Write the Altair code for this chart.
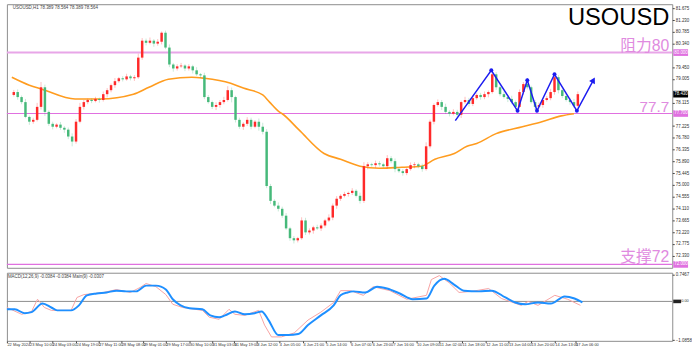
import altair as alt
import pandas as pd

# ---------------- data ----------------
close = [78.51, 78.32, 78.13, 77.57, 77.39, 77.46, 77.95, 78.69, 77.76, 77.31,
         77.20, 77.28, 77.16, 77.09, 76.83, 76.64, 77.39, 77.95, 78.13, 78.21,
         78.17, 78.25, 78.21, 78.43, 78.58, 78.77, 78.92, 79.03, 78.99, 79.10,
         79.03, 79.07, 79.81, 80.45, 80.37, 80.45, 80.34, 80.41, 80.75, 80.19,
         79.55, 79.40, 79.48, 79.51, 79.40, 79.48, 79.33, 79.18, 79.14, 78.32,
         78.13, 77.95, 78.02, 78.13, 78.21, 78.58, 78.32, 77.46, 77.20, 77.31,
         77.46, 77.20, 77.39, 77.20, 77.01, 74.96, 74.40, 74.22, 74.10, 73.84,
         73.36, 72.99, 72.91, 72.99, 73.66, 73.21, 73.28, 73.40, 73.36, 73.47,
         73.66, 73.77, 74.22, 74.48, 74.59, 74.66, 74.70, 74.78, 74.59, 74.40,
         75.71, 75.78, 75.75, 75.82, 75.78, 75.71, 76.01, 75.90, 75.60, 75.52,
         75.45, 75.60, 75.75, 75.78, 75.71, 75.60, 76.46, 77.39, 78.02, 78.13,
         77.95, 77.76, 77.69, 77.76, 77.65, 78.13, 78.21, 78.06, 78.28, 78.40,
         78.32, 78.43, 78.51, 79.18, 78.69, 78.43, 78.32, 78.25, 78.13, 77.95,
         78.51, 78.81, 78.69, 78.13, 77.95, 78.02, 78.21, 78.28, 78.51, 79.07,
         78.58, 78.36, 78.21, 78.13, 77.99, 78.43]
first_open = 78.40
hi_ext = [0.08, 0.10, 0.06, 0.12, 0.05, 0.08, 0.15, 0.20, 0.10, 0.06,
          0.08, 0.05, 0.10, 0.06, 0.08, 0.12, 0.10, 0.15, 0.08, 0.05,
          0.06, 0.08, 0.05, 0.10, 0.08, 0.06, 0.12, 0.05, 0.08, 0.10,
          0.06, 0.08, 0.15, 0.10, 0.08, 0.12, 0.06, 0.10, 0.05, 0.08,
          0.12, 0.06, 0.08, 0.10, 0.05, 0.08, 0.06, 0.12, 0.05, 0.10,
          0.08, 0.06, 0.10, 0.08, 0.12, 0.15, 0.10, 0.05, 0.08, 0.06,
          0.10, 0.08, 0.06, 0.12, 0.15, 0.10, 0.08, 0.06, 0.12, 0.08,
          0.10, 0.06, 0.08, 0.05, 0.12, 0.10, 0.08, 0.06, 0.10, 0.08,
          0.06, 0.12, 0.08, 0.10, 0.06, 0.08, 0.05, 0.10, 0.06, 0.12,
          0.15, 0.08, 0.06, 0.10, 0.08, 0.06, 0.12, 0.08, 0.10, 0.06,
          0.08, 0.05, 0.10, 0.08, 0.06, 0.10, 0.15, 0.08, 0.06, 0.10,
          0.08, 0.12, 0.06, 0.10, 0.08, 0.06, 0.12, 0.08, 0.10, 0.06,
          0.08, 0.10, 0.06, 0.15, 0.08, 0.06, 0.10, 0.08, 0.12, 0.06,
          0.10, 0.08, 0.12, 0.06, 0.08, 0.10, 0.06, 0.08, 0.12, 0.10,
          0.08, 0.06, 0.10, 0.08, 0.12, 0.10]
lo_ext = [0.06, 0.10, 0.08, 0.05, 0.12, 0.08, 0.06, 0.10, 0.15, 0.08,
          0.10, 0.06, 0.08, 0.12, 0.10, 0.18, 0.08, 0.06, 0.10, 0.08,
          0.08, 0.05, 0.10, 0.06, 0.12, 0.08, 0.10, 0.06, 0.08, 0.05,
          0.08, 0.10, 0.06, 0.08, 0.10, 0.06, 0.12, 0.08, 0.10, 0.06,
          0.10, 0.12, 0.08, 0.06, 0.10, 0.08, 0.12, 0.06, 0.10, 0.08,
          0.06, 0.08, 0.12, 0.10, 0.08, 0.06, 0.20, 0.10, 0.08, 0.12,
          0.08, 0.10, 0.06, 0.15, 0.10, 0.08, 0.12, 0.06, 0.10, 0.08,
          0.06, 0.10, 0.12, 0.08, 0.06, 0.10, 0.08, 0.12, 0.06, 0.10,
          0.08, 0.06, 0.10, 0.12, 0.08, 0.06, 0.10, 0.08, 0.06, 0.10,
          0.08, 0.12, 0.06, 0.10, 0.08, 0.06, 0.10, 0.08, 0.12, 0.06,
          0.10, 0.08, 0.06, 0.12, 0.08, 0.10, 0.06, 0.08, 0.10, 0.06,
          0.12, 0.08, 0.10, 0.06, 0.08, 0.12, 0.06, 0.10, 0.08, 0.06,
          0.10, 0.08, 0.12, 0.06, 0.10, 0.08, 0.06, 0.12, 0.08, 0.10,
          0.06, 0.10, 0.08, 0.06, 0.12, 0.08, 0.10, 0.06, 0.08, 0.10,
          0.12, 0.08, 0.06, 0.10, 0.08, 0.06]

ma_t = [-0.5, 4, 7.25, 15.75, 22.25, 30.75, 34.75, 39.75, 45.75, 49, 55.75, 59,
        64, 65.75, 68.25, 69, 73.25, 79.75, 84, 89, 94, 99.75, 104.75, 108.25,
        113.25, 116.5, 119, 124, 130.75, 135.75, 140.75, 144]
ma_v = [79.07, 78.77, 78.62, 78.25, 78.25, 78.43, 78.69, 78.99, 79.07, 79.03,
        78.84, 78.66, 78.40, 78.13, 77.76, 77.69, 77.09, 76.19, 75.97, 75.71,
        75.63, 75.67, 75.71, 75.97, 76.19, 76.46, 76.57, 76.94, 77.20, 77.39,
        77.61, 77.69]

sig_t = [-0.5, 1.5, 4, 5.75, 8.5, 10.75, 12.25, 15.75, 17.75, 19.75, 22.25, 24.75,
         27.25, 29.75, 32.25, 34.75, 37.25, 39.75, 41.5, 43.5, 45.75, 49, 51, 53.25,
         54.75, 57.25, 59.75, 62.25, 64, 65.75, 68.25, 70.75, 73.25, 75.75, 79, 82.25,
         84, 85.75, 87.25, 90.25, 93.25, 95.75, 99, 102.25, 105.75, 107.75, 110.25,
         112.75, 115.25, 119, 122.25, 125.75, 128.25, 130.75, 134, 137.25, 140.75,
         143.25, 145.25]
sig_v = [-0.22, -0.22, -0.33, -0.30, -0.06, -0.17, -0.25, -0.25, -0.11, 0.17,
         0.22, 0.25, 0.30, 0.28, 0.28, 0.44, 0.44, 0.33, 0.06, -0.11,
         -0.19, -0.22, -0.39, -0.44, -0.39, -0.28, -0.36, -0.33, -0.28, -0.52,
         -0.94, -0.94, -0.91, -0.66, -0.39, -0.11, 0.17, 0.25, 0.28, 0.25,
         0.41, 0.36, 0.22, 0.06, 0.08, 0.44, 0.63, 0.47, 0.30, 0.28,
         0.30, 0.11, -0.03, -0.08, -0.03, -0.06, 0.14, 0.08, -0.03]

macd_t = [-0.5, 3.25, 5.75, 7.25, 9, 10.75, 15.75, 17.25, 19, 24, 27.25, 30.75,
          33.25, 34.75, 37.25, 39.75, 41.5, 44, 49, 50.75, 53.25, 55.75, 57.25,
          59.75, 63.25, 64.75, 66.5, 69, 72.25, 75.75, 79, 82.25, 84, 86.5, 89.75,
          92.25, 96.5, 100.75, 105.75, 107, 109, 111.5, 114, 117.25, 121.5, 124.75,
          129.75, 131.5, 134, 138.25, 141.5, 144.75]
macd_v = [-0.17, -0.36, -0.28, 0.06, -0.17, -0.25, -0.25, 0.11, 0.19, 0.25,
          0.33, 0.25, 0.39, 0.50, 0.41, 0.19, -0.08, -0.17, -0.25, -0.44,
          -0.50, -0.22, -0.36, -0.39, -0.25, -0.66, -0.99, -0.99, -0.88, -0.52,
          -0.30, -0.03, 0.30, 0.30, 0.17, 0.41, 0.30, 0.06, 0.17, 0.61,
          0.72, 0.52, 0.25, 0.28, 0.36, 0.08, -0.11, 0.00, -0.11, 0.17,
          0.06, -0.11]

zig_t = [113.5, 122.75, 129.5, 132, 134.5, 139, 144.75, 149]
zig_v = [77.43, 79.33, 77.80, 78.96, 77.80, 79.18, 77.80, 78.96]

levels = [80.0, 77.7, 72.0]
cjk_levels = [80.0, 72.0]
cjk_names = ["阻力80", "支撑72"]
mid_level = [77.7]
mid_name = ["77.7"]
current_price = 78.43

price_ticks = [72.330, 72.775, 73.220, 73.665, 74.110, 74.555, 75.000, 75.445,
               75.890, 76.335, 76.780, 77.225, 78.115, 79.005, 79.450, 80.340,
               80.785, 81.230, 81.675]
macd_ticks = [0.7467, -1.0858]

time_pos = [-0.5, 5.25, 11, 17, 22.75, 28.5, 34, 39.75, 45.75, 51.5, 57, 62.75,
            68.5, 74.5, 80.25, 86.5, 92, 97.25, 103.25, 109, 114.75, 120.75,
            126.5, 132.25, 138.25, 143.5]
time_lab = ["22 May 2024", "23 May 10:00", "24 May 03:00", "24 May 19:00",
            "27 May 11:00", "28 May 08:00", "29 May 01:00", "29 May 17:00",
            "30 May 10:00", "31 May 03:00", "31 May 19:00", "3 Jun 12:00",
            "4 Jun 05:00", "4 Jun 21:00", "5 Jun 14:00", "6 Jun 07:00",
            "6 Jun 23:00", "7 Jun 16:00", "10 Jun 09:00", "11 Jun 02:00",
            "11 Jun 18:00", "12 Jun 11:00", "13 Jun 04:00", "13 Jun 20:00",
            "14 Jun 13:00", "17 Jun 06:00"]

# ---------------- tables ----------------
opens = [first_open] + close[:-1]
candles = pd.DataFrame({
    "t": list(range(len(close))),
    "open": opens,
    "close": close,
    "high": [max(o, c) + h for o, c, h in zip(opens, close, hi_ext)],
    "low": [min(o, c) - l for o, c, l in zip(opens, close, lo_ext)],
    "dir": ["up" if c >= o else "down" for o, c in zip(opens, close)],
})
ma_df = pd.DataFrame({"t": ma_t, "v": ma_v})
zig_df = pd.DataFrame({"t": zig_t, "v": zig_v})
sig_df = pd.DataFrame({"t": sig_t, "v": sig_v})
macd_df = pd.DataFrame({"t": macd_t, "v": macd_v})

# ---------------- styling ----------------
FONT = "Liberation Sans"
RED = "#ff2a2a"
GREEN = "#46b97a"
PINK_TXT = "#e08be0"
W = 674
BOX = "M-1,-0.45L1,-0.45L1,0.45L-1,0.45Z"

xs = alt.Scale(domain=[-0.5, 168], nice=False, zero=False)
ys = alt.Scale(domain=[71.872, 81.827], nice=False, zero=False)
ms = alt.Scale(domain=[-1.10, 0.80], nice=False, zero=False)

yaxis = alt.Axis(orient="right", values=price_ticks, format=".3f", labelFontSize=4.5,
                 labelColor="#333", tickSize=2, tickColor="#444", domain=False,
                 grid=False, labelPadding=1, title=None, labelFont=FONT)
maxis = alt.Axis(orient="right", values=macd_ticks, format=".4f", labelFontSize=4.5,
                 labelColor="#333", tickSize=2, tickColor="#444", domain=False,
                 grid=False, labelPadding=1, title=None, labelFont=FONT)

arr_pos = "[" + ",".join(str(p) for p in time_pos) + "]"
arr_lab = "[" + ",".join("'" + s + "'" for s in time_lab) + "]"
xaxis = alt.Axis(values=time_pos, labelExpr=f"{arr_lab}[indexof({arr_pos}, datum.value)]",
                 labelAlign="left", labelFontSize=4, labelColor="#333", tickSize=2,
                 tickColor="#444", domain=False, grid=False, labelPadding=0,
                 title=None, labelOverlap=False, labelFont=FONT, labelBound=False)


def X(f):
    return alt.X(f, scale=xs, axis=None, title=None)


def Y(f):
    return alt.Y(f, scale=ys, axis=yaxis, title=None)


def XM(f):
    return alt.X(f, scale=xs, axis=xaxis, title=None)


def YM(f):
    return alt.Y(f, scale=ms, axis=maxis, title=None)


dir_color = alt.Color("dir:N", scale=alt.Scale(domain=["up", "down"], range=[RED, GREEN]), legend=None)

# ---------------- main panel ----------------
lv_df = pd.DataFrame({"p": levels, "c": ["#e8a6e8", "#e070e0", "#e070e0"], "w": [2.0, 1.2, 1.2]})
level_rules = alt.Chart(lv_df).mark_rule().encode(
    y=Y("p:Q"), color=alt.Color("c:N", scale=None), strokeWidth=alt.StrokeWidth("w:Q", scale=None))

ma_line = alt.Chart(ma_df).mark_line(color="#ff9c1f", strokeWidth=1.6, interpolate="monotone").encode(
    x=X("t:Q"), y=Y("v:Q"))

wicks = alt.Chart(candles).mark_rule(strokeWidth=1, opacity=0.3).encode(
    x=X("t:Q"), y=Y("low:Q"), y2="high:Q", color=dir_color)
bodies = alt.Chart(candles).mark_bar(width=2.5).encode(
    x=X("t:Q"), y=Y("open:Q"), y2="close:Q", color=dir_color)

zig_line = alt.Chart(zig_df).mark_line(color="#1c1cf0", strokeWidth=1.5).encode(x=X("t:Q"), y=Y("v:Q"))
zig_dots = alt.Chart(zig_df.iloc[1:-1]).mark_circle(color="#1c1cf0", size=16, opacity=1).encode(
    x=X("t:Q"), y=Y("v:Q"))
zig_head = alt.Chart(zig_df.iloc[-1:]).mark_point(shape="triangle-up", angle=29, size=45, filled=True,
                                                  color="#1c1cf0", opacity=1).encode(x=X("t:Q"), y=Y("v:Q"))

cjk_text = alt.Chart(pd.DataFrame({"p": cjk_levels, "s": cjk_names})).mark_text(
    align="right", baseline="alphabetic", dy=-2, color=PINK_TXT, fontSize=16,
    font="Liberation Sans, Noto Sans CJK SC").encode(x=alt.value(671), y=Y("p:Q"), text="s:N")
mid_text = alt.Chart(pd.DataFrame({"p": mid_level, "s": mid_name})).mark_text(
    align="right", baseline="alphabetic", dy=-2, color=PINK_TXT, fontSize=15.5,
    font=FONT).encode(x=alt.value(671), y=Y("p:Q"), text="s:N")

title_text = alt.Chart(pd.DataFrame({"s": ["USOUSD"]})).mark_text(
    align="right", baseline="alphabetic", fontSize=24, font=FONT, color="#000").encode(
    x=alt.value(671), y=alt.value(21), text="s:N")

header_text = alt.Chart(pd.DataFrame({"s": ["USOUSD,H1  78.389 78.564 78.389 78.564"]})).mark_text(
    align="left", baseline="middle", fontSize=4.5, font=FONT, color="#444").encode(
    x=alt.value(6), y=alt.value(4), text="s:N")

box_df = pd.DataFrame({"p": levels + [current_price],
                       "lab": ["80.000", "77.700", "72.000", f"{current_price:.3f}"],
                       "c": ["#e070e0", "#e070e0", "#e070e0", "#000000"]})
boxes = alt.Chart(box_df).mark_point(shape=BOX, size=225, filled=True, opacity=1, strokeWidth=0).encode(
    x=alt.value(682.5), y=Y("p:Q"), color=alt.Color("c:N", scale=None))
box_text = alt.Chart(box_df).mark_text(align="left", baseline="middle", fontSize=4.5, font=FONT,
                                       color="white").encode(x=alt.value(676), y=Y("p:Q"), text="lab:N")

main = alt.layer(level_rules, ma_line, wicks, bodies, zig_line, zig_dots, zig_head,
                 cjk_text, mid_text, title_text, header_text, boxes, box_text).properties(width=W, height=267)

# ---------------- MACD panel ----------------
zero_df = pd.DataFrame({"v": [0.0], "lab": ["0.00"]})
zero_rule = alt.Chart(zero_df).mark_rule(color="#8c8c8c", strokeWidth=1).encode(y=YM("v:Q"))
red_line = alt.Chart(macd_df).mark_line(color="#f7a3a3", strokeWidth=1).encode(x=XM("t:Q"), y=YM("v:Q"))
blue_line = alt.Chart(sig_df).mark_line(color="#1e8fff", strokeWidth=2, interpolate="monotone").encode(
    x=XM("t:Q"), y=YM("v:Q"))
macd_header = alt.Chart(pd.DataFrame({"s": ["MACD(12,26,9) -0.0384 -0.0384 Main(9) -0.0307"]})).mark_text(
    align="left", baseline="middle", fontSize=4.5, font=FONT, color="#444").encode(
    x=alt.value(1), y=alt.value(4), text="s:N")
zero_box = alt.Chart(zero_df).mark_point(shape=BOX, size=64, filled=True, color="#222", opacity=1,
                                         strokeWidth=0).encode(x=alt.value(679), y=YM("v:Q"))
zero_text = alt.Chart(zero_df).mark_text(align="left", baseline="middle", fontSize=4, font=FONT,
                                         color="#333").encode(x=alt.value(683), y=YM("v:Q"), text="lab:N")

macd = alt.layer(zero_rule, red_line, blue_line, macd_header, zero_box, zero_text).properties(width=W, height=69)

chart = alt.vconcat(main, macd, spacing=2).resolve_scale(x="independent", y="independent").properties(
    padding={"left": 2, "top": 1, "right": 0, "bottom": 0}, background="white"
).configure_view(stroke="#8c8c8c", strokeWidth=1)

chart.save("out.html", embed_options={"renderer": "svg", "actions": False})
